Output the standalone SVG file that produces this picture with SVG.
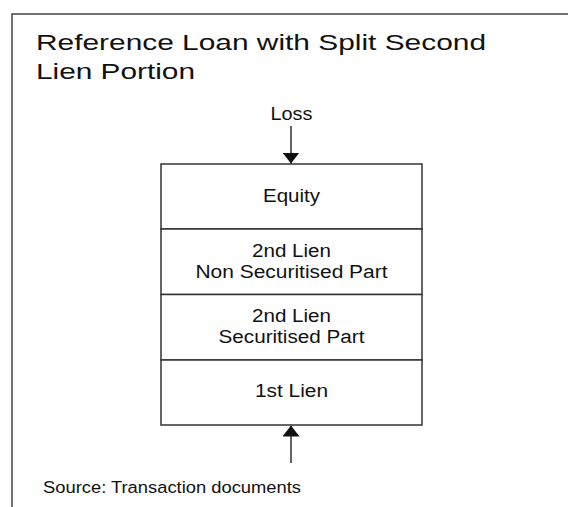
<svg xmlns="http://www.w3.org/2000/svg" width="568" height="507" viewBox="0 0 568 507">
  <defs>
    <style>
      .t { font-family: "Liberation Sans", Arial, sans-serif; fill: #111; }
      .lbl { font-size: 18px; text-anchor: middle; }
      .ttl { font-size: 22px; }
      .box { fill: #fff; stroke: #333; stroke-width: 1.5; }
      .conn { stroke: #111; stroke-width: 1.3; fill: none; }
    </style>
    <marker id="ah" viewBox="0 0 11 17" refX="11" refY="8.5" markerWidth="11" markerHeight="17" markerUnits="userSpaceOnUse" orient="auto">
      <path d="M0,0 L11,8.5 L0,17 Z" fill="#111"/>
    </marker>
  </defs>
  <rect width="568" height="507" fill="#fff"/>
  <path d="M12,507 V14 H568" fill="none" stroke="#444" stroke-width="1.5"/>
  <g id="title">
    <text class="t ttl" x="36" y="50" textLength="450" lengthAdjust="spacingAndGlyphs">Reference Loan with Split Second</text>
    <text class="t ttl" x="36" y="79" textLength="159" lengthAdjust="spacingAndGlyphs">Lien Portion</text>
  </g>
  <g id="loss">
    <text class="t lbl" x="291.5" y="120" textLength="42" lengthAdjust="spacingAndGlyphs">Loss</text>
  </g>
  <g id="equity">
    <rect class="box" x="161" y="164" width="261" height="65"/>
    <text class="t lbl" x="291.5" y="201.5" textLength="57" lengthAdjust="spacingAndGlyphs">Equity</text>
  </g>
  <g id="lien2-nonsec">
    <rect class="box" x="161" y="229" width="261" height="65.5"/>
    <text class="t lbl" x="291.5" y="256.5" textLength="79" lengthAdjust="spacingAndGlyphs">2nd Lien</text>
    <text class="t lbl" x="291.5" y="278.3" textLength="192" lengthAdjust="spacingAndGlyphs">Non Securitised Part</text>
  </g>
  <g id="lien2-sec">
    <rect class="box" x="161" y="294.5" width="261" height="65.5"/>
    <text class="t lbl" x="291.5" y="321.7" textLength="79" lengthAdjust="spacingAndGlyphs">2nd Lien</text>
    <text class="t lbl" x="291.5" y="342.7" textLength="146" lengthAdjust="spacingAndGlyphs">Securitised Part</text>
  </g>
  <g id="lien1">
    <rect class="box" x="161" y="360" width="261" height="65"/>
    <text class="t lbl" x="291.5" y="397.3" textLength="73" lengthAdjust="spacingAndGlyphs">1st Lien</text>
  </g>
  <g id="connectors">
    <line class="conn" x1="291" y1="126" x2="291" y2="163.5" marker-end="url(#ah)"/>
    <line class="conn" x1="291" y1="463" x2="291" y2="425.5" marker-end="url(#ah)"/>
  </g>
  <g id="source">
    <text class="t" x="43" y="492.7" font-size="16" textLength="258" lengthAdjust="spacingAndGlyphs">Source: Transaction documents</text>
  </g>
</svg>
